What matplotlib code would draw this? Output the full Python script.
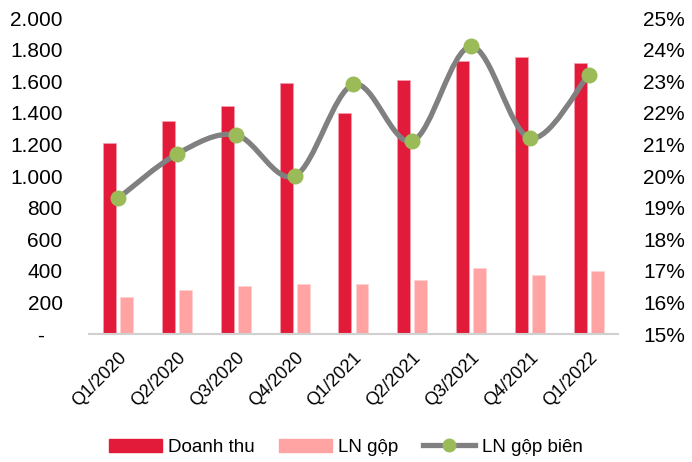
import matplotlib
matplotlib.use("Agg")
import matplotlib.pyplot as plt
from matplotlib.path import Path
from matplotlib.patches import PathPatch
from matplotlib.ticker import FuncFormatter, MultipleLocator
from matplotlib.lines import Line2D
from matplotlib.patches import Patch
import numpy as np

# data
quarters = ["Q1/2020", "Q2/2020", "Q3/2020", "Q4/2020", "Q1/2021",
            "Q2/2021", "Q3/2021", "Q4/2021", "Q1/2022"]
doanh_thu = [1210, 1348, 1443, 1589, 1399, 1608, 1728, 1753, 1715]
ln_gop = [234, 278, 306, 316, 318, 340, 416, 371, 399]
ln_gop_bien = [19.3, 20.7, 21.3, 20.0, 22.9, 21.1, 24.1, 21.2, 23.2]

plt.rcParams['font.family'] = ['Liberation Sans Narrow', 'Liberation Sans', 'DejaVu Sans']
fs = 15

red = "#E31B3A"
pink = "#FFA3A3"
grey = "#808080"
green = "#9BBB59"

fig = plt.figure(figsize=(6.92, 4.62), dpi=100)
ax = fig.add_axes([0.1286, 0.277, 0.893 - 0.1286, 0.961 - 0.277])

x = np.arange(len(quarters))
w = 0.22
ax.bar(x - 0.145, doanh_thu, width=w, color=red, edgecolor="#F5A0AE", linewidth=0.5, zorder=2)
ax.bar(x + 0.145, ln_gop, width=w, color=pink, edgecolor="#FFD0D0", linewidth=0.5, zorder=2)

ax.set_xlim(-0.5, len(quarters) - 0.5)
ax.set_ylim(0, 2000)
ax.yaxis.set_major_locator(MultipleLocator(200))
ax.yaxis.set_major_formatter(FuncFormatter(
    lambda v, p: "-   " if v == 0 else f"{int(v):,}".replace(",", ".")))
ax.set_xticks(x)
ax.set_xticklabels(quarters, rotation=45, ha="right", va="top",
                   rotation_mode="anchor", fontsize=13)
ax.tick_params(axis="x", length=0, pad=11)
ax.tick_params(axis="y", length=0, pad=19, labelsize=fs)
for s in ["top", "right", "left"]:
    ax.spines[s].set_visible(False)
ax.spines["bottom"].set_color("#D0D0D0")
ax.spines["bottom"].set_linewidth(1.5)

ax2 = ax.twinx()
ax2.set_ylim(15, 25)
ax2.yaxis.set_major_locator(MultipleLocator(1))
ax2.yaxis.set_major_formatter(FuncFormatter(lambda v, p: f"{v:.0f}%"))
ax2.tick_params(axis="y", length=0, pad=18, labelsize=fs)
for s in ["top", "right", "left", "bottom"]:
    ax2.spines[s].set_visible(False)

# smoothed line through the margin points (bezier, Excel-like smoothing)
pts = np.column_stack([x, ln_gop_bien]).astype(float)
verts = [tuple(pts[0])]
codes = [Path.MOVETO]
n = len(pts)
for i in range(n - 1):
    p0 = pts[i - 1] if i > 0 else pts[i]
    p1 = pts[i]
    p2 = pts[i + 1]
    p3 = pts[i + 2] if i + 2 < n else pts[i + 1]
    c1 = p1 + (p2 - p0) / 6.0
    c2 = p2 - (p3 - p1) / 6.0
    verts += [tuple(c1), tuple(c2), tuple(p2)]
    codes += [Path.CURVE4] * 3
ax2.add_patch(PathPatch(Path(verts, codes), facecolor="none", edgecolor=grey,
                        linewidth=3.8, capstyle="round", zorder=3))
ax2.plot(x, ln_gop_bien, linestyle="none", marker="o", markersize=10.5,
         color=green, markeredgecolor=green, zorder=4)

handles = [Patch(facecolor=red, edgecolor=red),
           Patch(facecolor=pink, edgecolor=pink),
           Line2D([0], [0], color=grey, linewidth=3.8, marker="o",
                  markersize=9, markerfacecolor=green, markeredgecolor=green)]
fig.legend(handles, ["Doanh thu", "LN gộp", "LN gộp biên"], loc="center",
           bbox_to_anchor=(0.5, 0.032), ncol=3, frameon=False, fontsize=13.5,
           handlelength=2.8, handleheight=0.7, columnspacing=1.3,
           handletextpad=0.35)

fig.savefig("out.png", dpi=100)
